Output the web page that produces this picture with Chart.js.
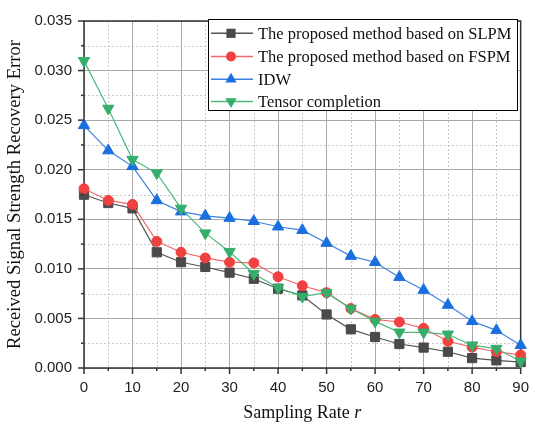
<!DOCTYPE html>
<html>
<head>
<meta charset="utf-8">
<script src="https://cdn.jsdelivr.net/npm/chart.js@4"></script>
<style>
  html, body { margin: 0; padding: 0; background: #fff; }
  canvas { display: block; }
</style>
</head>
<body>
<canvas id="chart" width="540" height="432"></canvas>
<script>
const sampling_rate = [0, 5, 10, 15, 20, 25, 30, 35, 40, 45, 50, 55, 60, 65, 70, 75, 80, 85, 90];
const slpm_error = [0.01748, 0.01664, 0.0161, 0.01167, 0.01067, 0.01019, 0.00962, 0.0090, 0.0080, 0.00732,
  0.0054, 0.0039, 0.00313, 0.00242, 0.00206, 0.00164, 0.0010, 0.00077, 0.0006];
const fspm_error = [0.01808, 0.0169, 0.0165, 0.01277, 0.01167, 0.0111, 0.01067, 0.0106, 0.0092, 0.0083,
  0.0076, 0.0060, 0.0049, 0.00464, 0.0040, 0.0027, 0.0021, 0.00164, 0.00132];
const idw_error = [0.02447, 0.02193, 0.02034, 0.0169, 0.01577, 0.01535, 0.01512, 0.0148, 0.01425, 0.0139,
  0.0126, 0.01129, 0.01067, 0.00916, 0.00786, 0.00635, 0.00471, 0.0038, 0.00229];
const tensor_error = [0.03098, 0.02618, 0.02102, 0.01966, 0.0161, 0.0136, 0.01173, 0.0095, 0.0081, 0.0072,
  0.0076, 0.0060, 0.0047, 0.0036, 0.0036, 0.0034, 0.0023, 0.00196, 0.00068];
const series_labels = ['The proposed method based on SLPM', 'The proposed method based on FSPM', 'IDW', 'Tensor completion'];

const SERIF = '"Liberation Serif", "Times New Roman", serif';
const SANS = '"Liberation Sans", Arial, sans-serif';


function make_points(values) {
  return values.map((v, i) => ({ x: sampling_rate[i], y: v }));
}


function make_dataset(label, values, line, fill, style, radius, rotation, order) {
  return {
    label: label,
    data: make_points(values),
    borderColor: line,
    backgroundColor: fill,
    borderWidth: 1.2,
    pointStyle: style,
    pointRadius: radius,
    pointRotation: rotation,
    pointBackgroundColor: fill,
    pointBorderColor: fill,
    pointBorderWidth: 1,
    tension: 0,
    clip: false,
    order: order,
  };
}


function is_major_x(v) { return Math.round(v) % 10 === 0; }
function is_major_y(v) { return Math.round(v / 0.0025) % 2 === 0; }


// dotted minor grid + frame
const frame_plugin = {
  id: 'frame',
  beforeDatasetsDraw(chart) {
    const ctx = chart.ctx;
    const a = chart.chartArea;
    const xs = chart.scales.x, ys = chart.scales.y;
    ctx.save();
    ctx.strokeStyle = '#c8c8c8';
    ctx.lineWidth = 1;
    ctx.setLineDash([2, 2]);
    for (const t of xs.ticks) {
      if (is_major_x(t.value)) continue;
      const px = Math.round(xs.getPixelForValue(t.value)) + 0.5;
      ctx.beginPath(); ctx.moveTo(px, a.top); ctx.lineTo(px, a.bottom); ctx.stroke();
    }
    for (const t of ys.ticks) {
      if (is_major_y(t.value)) continue;
      const py = Math.round(ys.getPixelForValue(t.value)) + 0.5;
      ctx.beginPath(); ctx.moveTo(a.left, py); ctx.lineTo(a.right, py); ctx.stroke();
    }
    ctx.setLineDash([]);
    ctx.strokeStyle = '#333';
    ctx.lineWidth = 1.5;
    ctx.strokeRect(a.left, a.top, a.right - a.left, a.bottom - a.top);
    ctx.restore();
  },
  afterDraw(chart) {
    const ctx = chart.ctx;
    const a = chart.chartArea;
    const xs = chart.scales.x, ys = chart.scales.y;
    ctx.save();
    ctx.strokeStyle = '#333';
    ctx.lineWidth = 1.5;
    for (const t of xs.ticks) {
      const px = xs.getPixelForValue(t.value);
      const len = is_major_x(t.value) ? 6 : 3;
      ctx.beginPath(); ctx.moveTo(px, a.bottom); ctx.lineTo(px, a.bottom + len); ctx.stroke();
    }
    for (const t of ys.ticks) {
      const py = ys.getPixelForValue(t.value);
      const len = is_major_y(t.value) ? 6 : 3;
      ctx.beginPath(); ctx.moveTo(a.left, py); ctx.lineTo(a.left - len, py); ctx.stroke();
    }

    // x title with italic r
    const part1 = 'Sampling Rate ';
    const part2 = 'r';
    const cx = (a.left + a.right) / 2;
    const ty = 413;
    ctx.fillStyle = '#111';
    ctx.textBaseline = 'middle';
    ctx.font = '18px ' + SERIF;
    const w1 = ctx.measureText(part1).width;
    ctx.font = 'italic 18px ' + SERIF;
    const w2 = ctx.measureText(part2).width;
    let x0 = cx - (w1 + w2) / 2;
    ctx.textAlign = 'left';
    ctx.font = '18px ' + SERIF;
    ctx.fillText(part1, x0, ty);
    ctx.font = 'italic 18px ' + SERIF;
    ctx.fillText(part2, x0 + w1, ty);
    ctx.restore();
  }
};


function draw_marker(ctx, ds, x, y) {
  const r = ds.pointRadius;
  ctx.fillStyle = ds.pointBackgroundColor;
  ctx.beginPath();
  if (ds.pointStyle === 'rect') {
    const s = Math.SQRT1_2 * r;
    ctx.rect(x - s, y - s, 2 * s, 2 * s);
  } else if (ds.pointStyle === 'circle') {
    ctx.arc(x, y, r, 0, Math.PI * 2);
  } else {
    const dir = ds.pointRotation === 180 ? -1 : 1;
    ctx.moveTo(x, y - dir * r);
    ctx.lineTo(x + r * Math.sin(Math.PI / 3), y + dir * r / 2);
    ctx.lineTo(x - r * Math.sin(Math.PI / 3), y + dir * r / 2);
    ctx.closePath();
  }
  ctx.fill();
}


const legend_plugin = {
  id: 'boxlegend',
  afterDatasetsDraw(chart) {
    const ctx = chart.ctx;
    const box = { left: 208, top: 19, right: 517, bottom: 110 };
    const rows = [33.3, 56.5, 79.3, 101.5];
    ctx.save();
    ctx.fillStyle = '#fff';
    ctx.fillRect(box.left, box.top, box.right - box.left, box.bottom - box.top);
    ctx.strokeStyle = '#000';
    ctx.lineWidth = 1;
    ctx.strokeRect(box.left + 0.5, box.top + 0.5, box.right - box.left, box.bottom - box.top);
    chart.data.datasets.forEach((ds, i) => {
      const y = rows[i];
      ctx.strokeStyle = ds.borderColor;
      ctx.lineWidth = 1.5;
      ctx.beginPath(); ctx.moveTo(211, y); ctx.lineTo(253, y); ctx.stroke();
      draw_marker(ctx, ds, 231, y);
      ctx.fillStyle = '#111';
      ctx.font = '16.5px ' + SERIF;
      ctx.textBaseline = 'middle';
      ctx.textAlign = 'left';
      ctx.fillText(ds.label, 258, y + 1);
    });
    ctx.restore();
  }
};


new Chart(document.getElementById('chart'), {
  type: 'line',
  data: {
    datasets: [
      make_dataset(series_labels[0], slpm_error, '#555555', '#4a4a4a', 'rect', 6.5, 0, 4),
      make_dataset(series_labels[1], fspm_error, '#f26a6a', '#f14040', 'circle', 5, 0, 3),
      make_dataset(series_labels[2], idw_error, '#3c82e0', '#1a6fdf', 'triangle', 6.5, 0, 2),
      make_dataset(series_labels[3], tensor_error, '#4cb87a', '#37ad6b', 'triangle', 6.5, 180, 1),
    ]
  },
  options: {
    responsive: false,
    animation: false,
    layout: { padding: { top: 6, right: 6, left: 0, bottom: 0 } },
    plugins: { legend: { display: false }, tooltip: { enabled: false } },
    scales: {
      x: {
        type: 'linear',
        min: 0,
        max: 90,
        afterFit: s => { s.height = 64; },
        border: { display: false },
        grid: {
          drawTicks: false,
          color: c => (c.tick && is_major_x(c.tick.value)) ? '#a8a8a8' : 'rgba(0,0,0,0)',
          lineWidth: 1,
        },
        ticks: {
          stepSize: 5,
          autoSkip: false,
          maxRotation: 0,
          padding: 11,
          color: '#222',
          font: { family: SANS, size: 15 },
          callback: v => is_major_x(v) ? String(Math.round(v)) : '',
        },
      },
      y: {
        min: 0,
        max: 0.035,
        afterFit: s => { s.width = 84; },
        border: { display: false },
        grid: {
          drawTicks: false,
          color: c => (c.tick && is_major_y(c.tick.value)) ? '#a8a8a8' : 'rgba(0,0,0,0)',
          lineWidth: 1,
        },
        ticks: {
          stepSize: 0.0025,
          autoSkip: false,
          padding: 12,
          color: '#222',
          font: { family: SANS, size: 15 },
          callback: v => is_major_y(v) ? v.toFixed(3) : '',
        },
        title: {
          display: true,
          text: 'Received Signal Strength Recovery Error',
          color: '#111',
          font: { family: SERIF, size: 18.6 },
          padding: { top: 4, bottom: 0 },
        },
      },
    },
  },
  plugins: [frame_plugin, legend_plugin],
});
</script>
</body>
</html>
